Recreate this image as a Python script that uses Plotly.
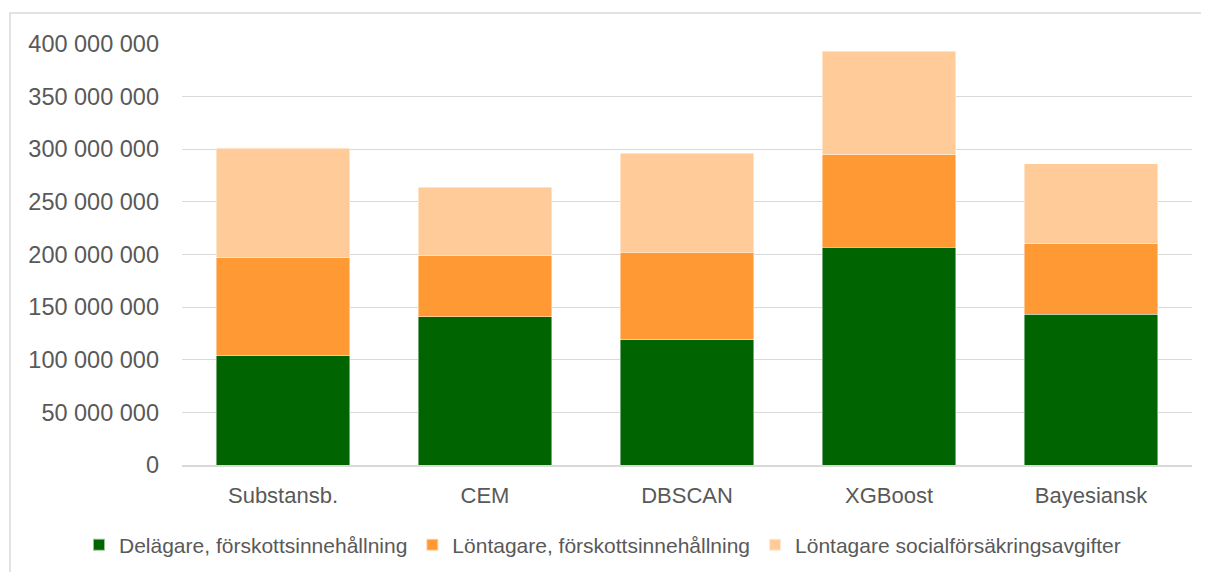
import plotly.graph_objects as go

categories = ["Substansb.", "CEM", "DBSCAN", "XGBoost", "Bayesiansk"]
delagare_forskott = [104_000_000, 141_000_000, 119_000_000, 207_000_000, 143_000_000]
lontagare_forskott = [93_000_000, 58_000_000, 83_000_000, 88_000_000, 67_000_000]
lontagare_social = [104_000_000, 65_000_000, 94_000_000, 98_000_000, 76_000_000]

series_names = [
    "Delägare, förskottsinnehållning",
    "Löntagare, förskottsinnehållning",
    "Löntagare socialförsäkringsavgifter",
]
series_values = [delagare_forskott, lontagare_forskott, lontagare_social]
series_colors = ["#006400", "#FF9933", "#FFCC99"]

tick_vals = [0, 50_000_000, 100_000_000, 150_000_000, 200_000_000,
             250_000_000, 300_000_000, 350_000_000, 400_000_000]

fig = go.Figure()
for name, vals, col in zip(series_names, series_values, series_colors):
    fig.add_trace(go.Bar(
        x=categories, y=vals, name=name,
        marker=dict(color=col, line=dict(color="rgba(255,255,255,0.6)", width=0.75)),
    ))

FONT = "Liberation Sans, Arial, sans-serif"
OFF = 8  # page body margin
W, H = 1209 - OFF, 572 - OFF
L, R, T, B = 182 - OFF, 17, 44 - OFF, 107
pw, ph = W - L - R, H - T - B

def px_to_paper_x(px):
    return (px - OFF - L) / pw

def px_to_paper_y(py):
    return (H - B - (py - OFF)) / ph

fig.update_layout(
    width=W, height=H,
    barmode="stack", bargap=0.337,
    plot_bgcolor="white", paper_bgcolor="white",
    separators=", ",
    margin=dict(l=L, r=R, t=T, b=B, autoexpand=False),
    font=dict(family=FONT, size=21, color="#595959"),
    showlegend=True,
    legend=dict(
        orientation="h", xref="paper", yref="paper",
        x=px_to_paper_x(79), xanchor="left",
        y=px_to_paper_y(545), yanchor="middle",
        font=dict(size=21, color="#595959"), traceorder="normal",
        itemwidth=30, itemsizing="constant", tracegroupgap=0,
    ),
    xaxis=dict(
        showgrid=False, showline=True, linecolor="#D9D9D9", linewidth=1.5,
        ticks="", ticklabelstandoff=10, tickfont=dict(size=22, color="#595959"),
    ),
    yaxis=dict(
        range=[0, 400_000_000], tickvals=tick_vals, tickformat=",d",
        showgrid=True, gridcolor="#D9D9D9", gridwidth=1.3,
        zeroline=False, showline=False, ticks="", ticklabelstandoff=22,
        tickfont=dict(size=23.5, color="#595959"),
    ),
    shapes=[dict(
        type="rect", xref="paper", yref="paper",
        x0=px_to_paper_x(10), x1=px_to_paper_x(1225),
        y0=px_to_paper_y(600), y1=px_to_paper_y(13),
        line=dict(color="#D9D9D9", width=1.5), fillcolor="rgba(0,0,0,0)", layer="below",
    )],
)

fig.write_html("out.html")
